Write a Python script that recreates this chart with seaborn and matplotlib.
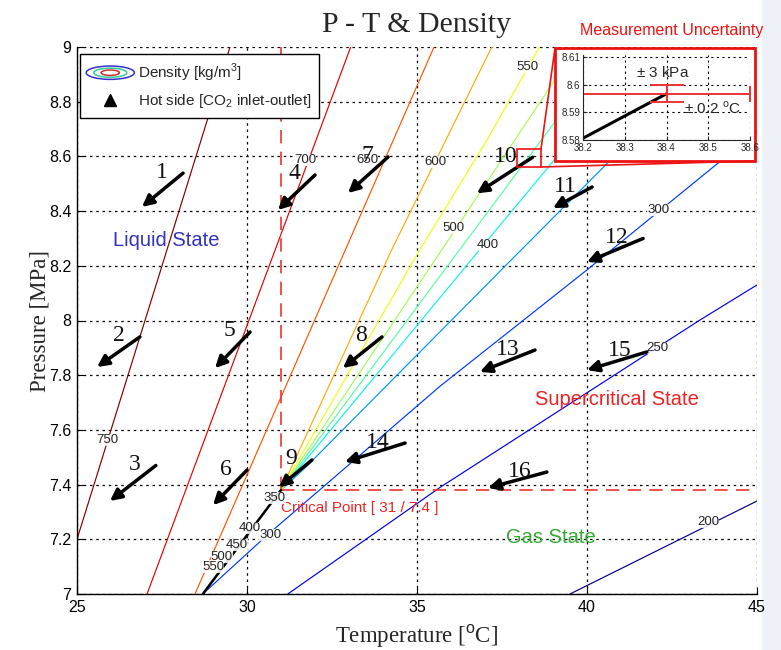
import matplotlib
matplotlib.use("Agg")
import numpy as np
import pandas as pd
import matplotlib.pyplot as plt
import seaborn as sns
from matplotlib.patches import Ellipse, Rectangle
from matplotlib.legend_handler import HandlerBase
from matplotlib.lines import Line2D

# ---------------- isodensity lines of CO2 [kg/m3] (temperature degC, pressure MPa) ----------
t_750 = [25.0, 29.5];                           p_750 = [7.2, 9.0]
t_700 = [27.06, 33.05];                         p_700 = [7.0, 9.0]
t_650 = [28.47, 35.5];                          p_650 = [7.0, 9.0]
t_600 = [28.7, 31.0, 34.26, 37.2];              p_600 = [7.0, 7.38, 8.26, 9.0]
t_550 = [28.7, 31.0, 35.09, 37.06, 38.6];       p_550 = [7.0, 7.38, 8.26, 8.66, 9.0]
t_500 = [28.7, 31.0, 35.74, 39.7];              p_500 = [7.0, 7.38, 8.26, 9.0]
t_450 = [28.7, 31.0, 36.26, 40.7];              p_450 = [7.0, 7.38, 8.26, 9.0]
t_400 = [28.7, 31.0, 36.85, 41.8];              p_400 = [7.0, 7.38, 8.26, 9.0]
t_350 = [28.7, 31.0, 31.7, 37.44, 44.0];        p_350 = [7.0, 7.38, 7.46, 8.18, 9.0]
t_300 = [28.7, 30.6, 35.68, 40.0, 43.85, 45.0]; p_300 = [7.0, 7.216, 7.76, 8.185, 8.575, 8.69]
t_250 = [31.2, 35.68, 43.3, 45.0];              p_250 = [7.0, 7.39, 8.0, 8.13]
t_200 = [39.5, 45.0];                           p_200 = [7.0, 7.34]

# saturation curve up to the critical point
sat_t = [28.7, 31.0]
sat_p = [7.0, 7.38]
crit_t, crit_p = 31.0, 7.38

# contour label positions (level, T, P)
clab_level = [750, 700, 650, 600, 550, 500, 400, 300, 250, 200, 350, 400, 450, 500, 550, 300]
clab_t = [25.88, 31.71, 33.53, 35.53, 38.24, 36.06, 37.09, 42.09, 42.06, 43.56,
          30.82, 30.09, 29.70, 29.26, 29.0, 30.68]
clab_p = [7.563, 8.587, 8.587, 8.58, 8.927, 8.338, 8.276, 8.404, 7.899, 7.263,
          7.351, 7.241, 7.18, 7.135, 7.10, 7.216]

# hot side CO2, inlet -> outlet
case_no = list(range(1, 17))
t_in = [28.12, 26.85, 27.32, 32.0, 30.09, 30.0, 34.15, 33.97, 31.91, 38.4,
        40.15, 41.65, 38.47, 34.65, 41.76, 38.82]
p_in = [8.539, 7.94, 7.47, 8.532, 7.958, 7.453, 8.598, 7.94, 7.49, 8.5967,
        8.488, 8.30, 7.892, 7.552, 7.885, 7.446]
t_out = [26.91, 25.59, 25.97, 30.91, 29.06, 29.0, 32.97, 32.82, 30.94, 36.76,
         39.0, 40.0, 36.85, 32.88, 40.0, 37.09]
p_out = [8.415, 7.83, 7.34, 8.404, 7.826, 7.325, 8.466, 7.826, 7.39, 8.465,
         8.411, 8.214, 7.812, 7.483, 7.819, 7.388]

# measurement uncertainty
unc_t = 0.2     # degC
unc_p = 0.003   # MPa (3 kPa)

levels = [750, 700, 650, 600, 550, 500, 450, 400, 350, 300, 250, 200]
t_lists = [t_750, t_700, t_650, t_600, t_550, t_500, t_450, t_400, t_350, t_300, t_250, t_200]
p_lists = [p_750, p_700, p_650, p_600, p_550, p_500, p_450, p_400, p_350, p_300, p_250, p_200]

rows = []
for lev, ts, ps in zip(levels, t_lists, p_lists):
    for i, (t, p) in enumerate(zip(ts, ps)):
        rows.append({"level": lev, "order": i, "T": t, "P": p})
iso = pd.DataFrame(rows)

jet = plt.get_cmap("jet")
palette = {lev: jet((lev - 200) / 550) for lev in levels}

sns.set_style("ticks")
SERIF = ["Liberation Serif", "DejaVu Serif"]
SANS = ["Liberation Sans", "DejaVu Sans"]
plt.rcParams["font.family"] = SANS
plt.rcParams["mathtext.fontset"] = "custom"
plt.rcParams["mathtext.rm"] = "Liberation Sans"

fig = plt.figure(figsize=(7.81, 6.5), dpi=100)
fig.patch.set_facecolor("white")
# pale strip along the right border
fig.add_artist(Rectangle((762 / 781, 0), 19 / 781, 1, transform=fig.transFigure,
                         facecolor="#eef2f8", edgecolor="none", zorder=0))

ax = fig.add_axes([77 / 781, 1 - 594 / 650, 680 / 781, 547 / 650])

sns.lineplot(data=iso, x="T", y="P", hue="level", palette=palette, sort=False,
             estimator=None, legend=False, linewidth=0.85, ax=ax, zorder=2)
ax.plot(sat_t, sat_p, color="black", lw=1.8, zorder=3)

ax.set_xlim(25, 45)
ax.set_ylim(7, 9)
ax.set_xticks(np.arange(25, 46, 5))
yt = np.round(np.arange(7.0, 9.01, 0.2), 1)
ax.set_yticks(yt)
ax.set_yticklabels([f"{v:g}" for v in yt])
ax.tick_params(direction="in", length=5, labelsize=11.5, colors="black", pad=4)
for s in ["top", "right"]:
    ax.spines[s].set_visible(False)
for s in ["left", "bottom"]:
    ax.spines[s].set_color("black")
    ax.spines[s].set_linewidth(1.0)
ax.grid(True, color="black", linestyle=(0, (2, 3)), linewidth=0.9)
ax.set_axisbelow(True)
ax.set_facecolor("white")

# critical point markers
ax.plot([crit_t, crit_t], [crit_p, 9.0], color="#ee3333", ls=(0, (8, 5)), lw=1.2, zorder=2.5)
ax.plot([crit_t, 45.0], [crit_p, crit_p], color="#ee3333", ls=(0, (8, 5)), lw=1.2, zorder=2.5)
ax.text(31.0, 7.314, "Critical Point [ 31 / 7.4 ]", color="#ee2222", fontsize=11,
        family=SANS, ha="left", va="center")

# contour labels
for lev, t, p in zip(clab_level, clab_t, clab_p):
    ax.text(t, p, str(lev), fontsize=9.5, color="#222222", ha="center", va="center",
            family=SANS, zorder=4,
            bbox=dict(facecolor="white", edgecolor="none", pad=0.2, alpha=0.85))

# inlet -> outlet arrows
for n, ti, pi, to, po in zip(case_no, t_in, p_in, t_out, p_out):
    ax.annotate("", xy=(to, po), xytext=(ti, pi),
                arrowprops=dict(arrowstyle="-|>", color="black", lw=2.5,
                                mutation_scale=17, shrinkA=0, shrinkB=0),
                zorder=6)
    ax.annotate(str(n), xy=(ti, pi), xytext=(-15, 1), textcoords="offset pixels",
                ha="right", va="center", fontsize=17, family=SERIF, color="#111111",
                zorder=6)

# state regions
ax.text(27.62, 8.294, "Liquid State", color="#3333bb", fontsize=14.5, family=SANS,
        ha="center", va="center")
ax.text(40.88, 7.71, "Supercritical State", color="#ee2222", fontsize=14.5,
        family=SANS, ha="center", va="center")
ax.text(38.94, 7.208, "Gas State", color="#33aa33", fontsize=14.5, family=SANS,
        ha="center", va="center")

ax.set_xlabel("Temperature [$^{\\mathrm{o}}$C]", family=SERIF, fontsize=16.5, labelpad=6)
ax.set_ylabel("Pressure [MPa]", family=SERIF, fontsize=16.5, labelpad=-1)
ax.set_title("P - T & Density", family=SERIF, fontsize=21.5, pad=11)


# legend
class ContourIcon:
    pass


class ContourHandler(HandlerBase):
    def create_artists(self, legend, orig_handle, xdescent, ydescent, width, height,
                       fontsize, trans):
        cx = width / 2 - xdescent
        cy = height / 2 - ydescent
        arts = []
        for w, h, c in [(1.05, 1.25, "#3333cc"), (0.72, 0.85, "#33cc99"), (0.4, 0.5, "#cc3333")]:
            e = Ellipse((cx, cy), width * w, height * h, fill=False, edgecolor=c,
                        lw=1.1, transform=trans)
            arts.append(e)
        return arts


tri = Line2D([], [], marker="^", color="black", linestyle="none", markersize=9)
leg = ax.legend([ContourIcon(), tri],
                ["Density [kg/m$^3$]", "Hot side [CO$_2$ inlet-outlet]"],
                handler_map={ContourIcon: ContourHandler()},
                loc="upper left", bbox_to_anchor=(0.004, 0.987), fontsize=11,
                frameon=True, fancybox=False, edgecolor="black", framealpha=1,
                borderpad=0.5, handlelength=3.0, handletextpad=0.3, labelspacing=0.55,
                borderaxespad=0.0)
leg.get_frame().set_linewidth(1.0)
leg.set_zorder(10)

# zoom frame
x0, x1, y0, y1 = 517, 541, 149, 167
ax_tr = lambda px, py: (px / 781, 1 - py / 650)
fig.add_artist(Rectangle(ax_tr(555, 161), 200 / 781, 113 / 650, transform=fig.transFigure,
                         facecolor="white", edgecolor="#ee1111", lw=2.0, zorder=3))
fig.add_artist(Rectangle(ax_tr(x0, y1), (x1 - x0) / 781, (y1 - y0) / 650,
                         transform=fig.transFigure, facecolor="none",
                         edgecolor="#ee1111", lw=1.2, zorder=3))
fig.add_artist(Line2D([x1 / 781, 555 / 781], [1 - y0 / 650, 1 - 48 / 650],
                      transform=fig.transFigure, color="#ee1111", lw=1.2, zorder=3))
fig.add_artist(Line2D([x1 / 781, 755 / 781], [1 - y1 / 650, 1 - 161 / 650],
                      transform=fig.transFigure, color="#ee1111", lw=1.2, zorder=3))
fig.text(672 / 781, 1 - 30 / 650, "Measurement Uncertainty", color="#ee1111",
         fontsize=11.5, family=SANS, ha="center", va="center")

axin = fig.add_axes([583 / 781, 1 - 140 / 650, 167 / 781, 85 / 650])
axin.set_zorder(5)
axin.plot([t_in[9], t_out[9]], [p_in[9], p_out[9]], color="black", lw=2.2)
axin.errorbar([t_in[9]], [p_in[9]], xerr=unc_t, color="#ee3333",
              lw=1.4, capsize=6, capthick=1.4)
axin.errorbar([t_in[9]], [p_in[9]], yerr=unc_p, color="#ee3333",
              lw=1.4, capsize=12, capthick=1.4)
axin.set_xlim(38.2, 38.6)
axin.set_ylim(8.58, 8.6107)
axin.set_xticks([38.2, 38.3, 38.4, 38.5, 38.6])
axin.set_yticks([8.58, 8.59, 8.6, 8.61])
axin.set_yticklabels(["8.58", "8.59", "8.6", "8.61"])
axin.tick_params(direction="in", length=3, labelsize=7, pad=2)
for s in ["top", "right"]:
    axin.spines[s].set_visible(False)
axin.grid(True, color="black", linestyle=(0, (2, 3)), linewidth=0.8)
axin.text(38.39, 8.6044, "$\\pm$ 3 kPa", fontsize=11, ha="center", va="center", family=SANS)
axin.text(38.51, 8.5915, "$\\pm$ 0.2 $^{\\mathrm{o}}$C", fontsize=11, ha="center",
          va="center", family=SANS)

fig.savefig("out.png", dpi=100, facecolor="white")
